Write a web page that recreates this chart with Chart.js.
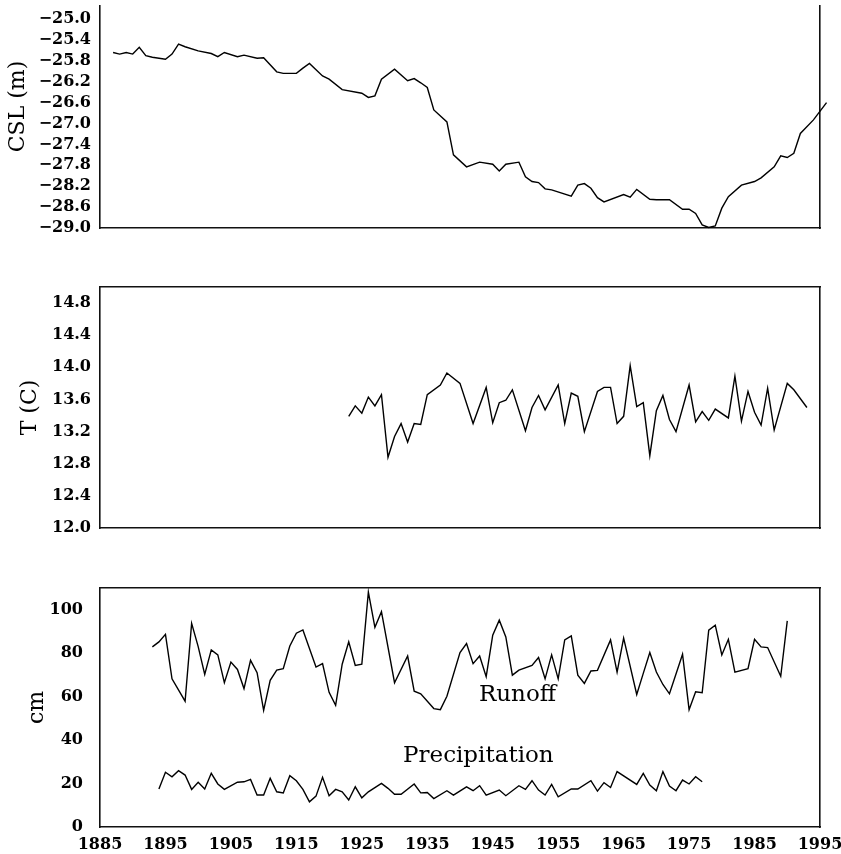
<!DOCTYPE html>
<html>
<head>
<meta charset="utf-8">
<script src="https://cdn.jsdelivr.net/npm/chart.js@4.4.0/dist/chart.umd.min.js"></script>
<style>
  html, body { margin: 0; padding: 0; background: #fff; }
  #wrap { position: relative; width: 841px; height: 854px; overflow: hidden; }
  .panel { position: absolute; left: 0; width: 841px; }
</style>
</head>
<body>
<div id="wrap">
  <div class="panel" style="top:0;height:240px"><canvas id="cslChart"></canvas></div>
  <div class="panel" style="top:280px;height:260px"><canvas id="tempChart"></canvas></div>
  <div class="panel" style="top:570px;height:284px"><canvas id="cmChart"></canvas></div>
</div>
<script>
// year axis shared by the three panels
const yearTicks = [1885, 1895, 1905, 1915, 1925, 1935, 1945, 1955, 1965, 1975, 1985, 1995];

// Caspian sea level (m)
const cslYears = [1887, 1888, 1889, 1890, 1891, 1892, 1893, 1895, 1896, 1897, 1898, 1900, 1902, 1903, 1904, 1906, 1907, 1909, 1910, 1912,
  1913, 1915, 1916, 1917, 1919, 1920, 1922, 1925, 1926, 1927, 1928, 1930, 1932, 1933, 1934, 1935, 1936, 1938, 1939, 1941,
  1943, 1945, 1946, 1947, 1949, 1950, 1951, 1952, 1953, 1954, 1957, 1958, 1959, 1960, 1961, 1962, 1965, 1966, 1967, 1969,
  1970, 1972, 1974, 1975, 1976, 1977, 1978, 1979, 1980, 1981, 1983, 1985, 1986, 1988, 1989, 1990, 1991, 1992, 1994, 1996];
const cslValues = [-25.64, -25.67, -25.64, -25.67, -25.54, -25.70, -25.73, -25.77, -25.67, -25.48, -25.53, -25.61, -25.66, -25.72, -25.64, -25.72, -25.69, -25.75, -25.74, -26.01,
  -26.04, -26.04, -25.94, -25.85, -26.09, -26.15, -26.35, -26.42, -26.50, -26.47, -26.15, -25.96, -26.18, -26.14, -26.22, -26.31, -26.74, -26.97, -27.60, -27.83,
  -27.74, -27.78, -27.91, -27.78, -27.74, -28.02, -28.11, -28.13, -28.25, -28.27, -28.39, -28.18, -28.15, -28.24, -28.42, -28.50, -28.36, -28.41, -28.26, -28.45,
  -28.46, -28.46, -28.64, -28.64, -28.72, -28.94, -28.99, -28.96, -28.62, -28.40, -28.18, -28.11, -28.04, -27.83, -27.62, -27.65, -27.57, -27.19, -26.93, -26.60];
const cslTicks = [-29.0, -28.6, -28.2, -27.8, -27.4, -27.0, -26.6, -26.2, -25.8, -25.4, -25.0];

// temperature (C)
const tYears = [1923, 1924, 1925, 1926, 1927, 1928, 1929, 1930, 1931, 1932, 1933, 1934, 1935, 1937, 1938, 1940, 1942, 1944, 1945, 1946,
  1947, 1948, 1950, 1951, 1952, 1953, 1955, 1956, 1957, 1958, 1959, 1961, 1962, 1963, 1964, 1965, 1966, 1967, 1968, 1969,
  1970, 1971, 1972, 1973, 1975, 1976, 1977, 1978, 1979, 1981, 1982, 1983, 1984, 1985, 1986, 1987, 1988, 1990, 1991, 1993];
const tValues = [13.39, 13.52, 13.43, 13.63, 13.52, 13.66, 12.88, 13.14, 13.30, 13.07, 13.30, 13.29, 13.66, 13.78, 13.93, 13.80, 13.30, 13.75, 13.31, 13.56,
  13.59, 13.72, 13.21, 13.50, 13.65, 13.47, 13.78, 13.30, 13.68, 13.64, 13.20, 13.70, 13.75, 13.75, 13.30, 13.39, 14.02, 13.51, 13.56, 12.90,
  13.46, 13.65, 13.35, 13.20, 13.78, 13.32, 13.45, 13.34, 13.48, 13.37, 13.89, 13.33, 13.70, 13.44, 13.28, 13.74, 13.22, 13.80, 13.72, 13.50];
const tTicks = [12.0, 12.4, 12.8, 13.2, 13.6, 14.0, 14.4, 14.8];

// runoff and precipitation (cm)
const runoffYears = [1893, 1894, 1895, 1896, 1898, 1899, 1900, 1901, 1902, 1903, 1904, 1905, 1906, 1907, 1908, 1909, 1910, 1911, 1912, 1913,
  1914, 1915, 1916, 1918, 1919, 1920, 1921, 1922, 1923, 1924, 1925, 1926, 1927, 1928, 1930, 1932, 1933, 1934, 1936, 1937,
  1938, 1940, 1941, 1942, 1943, 1944, 1945, 1946, 1947, 1948, 1949, 1951, 1952, 1953, 1954, 1955, 1956, 1957, 1958, 1959,
  1960, 1961, 1963, 1964, 1965, 1967, 1968, 1969, 1970, 1971, 1972, 1974, 1975, 1976, 1977, 1978, 1979, 1980, 1981, 1982,
  1984, 1985, 1986, 1987, 1989, 1990];
const runoffValues = [82.9, 85.2, 88.7, 68.2, 57.9, 93.7, 83.0, 70.2, 81.5, 79.2, 66.4, 75.9, 72.5, 63.7, 76.7, 71.0, 53.7, 67.5, 72.2, 72.9,
  83.3, 89.2, 90.7, 73.6, 75.2, 62.0, 56.0, 74.9, 85.2, 74.4, 74.9, 108.1, 91.9, 99.1, 66.4, 78.7, 62.5, 61.3, 54.5, 54.0,
  60.2, 80.3, 84.4, 75.2, 78.7, 69.2, 88.3, 95.2, 87.5, 69.9, 72.2, 74.4, 78.0, 68.2, 79.2, 68.2, 86.1, 88.0, 69.9, 66.1,
  71.8, 72.1, 86.1, 71.3, 86.9, 61.0, 70.7, 80.3, 71.3, 65.6, 61.3, 79.5, 54.0, 62.2, 61.8, 90.6, 92.9, 79.2, 86.4, 71.3,
  72.9, 86.4, 82.9, 82.6, 69.4, 94.9];
const precipYears = [1894, 1895, 1896, 1897, 1898, 1899, 1900, 1901, 1902, 1903, 1904, 1906, 1907, 1908, 1909, 1910, 1911, 1912, 1913, 1914,
  1915, 1916, 1917, 1918, 1919, 1920, 1921, 1922, 1923, 1924, 1925, 1926, 1928, 1929, 1930, 1931, 1933, 1934, 1935, 1936,
  1938, 1939, 1941, 1942, 1943, 1944, 1946, 1947, 1949, 1950, 1951, 1952, 1953, 1954, 1955, 1957, 1958, 1960, 1961, 1962,
  1963, 1964, 1967, 1968, 1969, 1970, 1971, 1972, 1973, 1974, 1975, 1976, 1977];
const precipValues = [17.5, 25.2, 23.1, 25.9, 23.9, 17.3, 20.6, 17.5, 24.7, 19.8, 17.3, 20.6, 20.8, 21.9, 14.7, 14.7, 22.4, 16.2, 15.7, 23.6,
  21.3, 17.3, 11.6, 14.2, 22.9, 14.4, 17.3, 16.2, 12.4, 18.5, 13.4, 16.2, 20.1, 17.8, 15.1, 15.1, 19.8, 15.7, 15.9, 13.1,
  16.7, 14.7, 18.5, 16.7, 19.0, 14.7, 17.0, 14.4, 19.0, 17.3, 21.3, 17.0, 14.7, 19.6, 13.9, 17.5, 17.5, 21.3, 16.5, 20.4,
  18.2, 25.5, 19.6, 24.7, 19.3, 16.7, 25.5, 18.8, 16.7, 21.6, 19.8, 23.1, 20.8];
const cmTicks = [0, 20, 40, 60, 80, 100];

const FONT = "'DejaVu Serif', 'Liberation Serif', serif";
Chart.defaults.font.family = FONT;
Chart.defaults.color = '#000';

const toPoints = (xs, ys) => xs.map((x, i) => ({ x: x, y: ys[i] }));
const minus = v => v.toFixed(1).replace('-', '\u2212');

const lineStyle = {
  borderColor: '#000',
  borderWidth: 1.4,
  pointRadius: 0,
  tension: 0,
  fill: false
};

// free text labels placed in data coordinates
const seriesLabels = {
  id: 'seriesLabels',
  afterDatasetsDraw(chart, args, opts) {
    if (!opts.items) return;
    const { ctx } = chart;
    const x = chart.scales.x, y = chart.scales.y;
    ctx.save();
    ctx.font = '23px ' + FONT;
    ctx.fillStyle = '#000';
    ctx.textAlign = 'left';
    ctx.textBaseline = 'alphabetic';
    opts.items.forEach(it => ctx.fillText(it.text, x.getPixelForValue(it.x), y.getPixelForValue(it.y)));
    ctx.restore();
  }
};

function makeOptions(cfg) {
  const frame = { display: true, color: '#111', width: 1.6 };
  return {
    responsive: true,
    maintainAspectRatio: false,
    animation: false,
    layout: { padding: cfg.padding },
    plugins: {
      legend: { display: false },
      tooltip: { enabled: false },
      seriesLabels: { items: cfg.labels || null }
    },
    scales: {
      x: {
        type: 'linear', position: 'bottom', min: 1885, max: 1995,
        grid: { display: false, drawTicks: false },
        border: frame,
        ticks: {
          display: cfg.showX, autoSkip: false, maxRotation: 0, padding: 8,
          font: { size: 16, weight: 'bold' },
          callback: v => String(v)
        },
        afterBuildTicks: s => { s.ticks = yearTicks.map(v => ({ value: v })); },
        afterFit: s => { s.height = cfg.showX ? 27 : 0; s.paddingLeft = 0; s.paddingRight = 0; }
      },
      xTop: {
        type: 'linear', position: 'top', min: 1885, max: 1995,
        display: cfg.topFrame,
        grid: { display: false, drawTicks: false },
        border: frame,
        ticks: { display: false },
        afterFit: s => { s.height = 0; s.paddingLeft = 0; s.paddingRight = 0; }
      },
      y: {
        type: 'linear', position: 'left', min: cfg.min, max: cfg.max,
        grid: { display: false, drawTicks: false },
        border: frame,
        title: {
          display: true, text: cfg.title,
          font: { size: 22, weight: 'normal' },
          padding: { top: cfg.titlePad, bottom: 0 }
        },
        ticks: {
          autoSkip: false, padding: cfg.tickPad,
          font: { size: 16, weight: 'bold' },
          callback: cfg.fmt
        },
        afterBuildTicks: s => { s.ticks = cfg.ticks.map(v => ({ value: v })); },
        afterFit: s => { s.width = 100; s.paddingTop = 0; s.paddingBottom = 0; }
      },
      yRight: {
        type: 'linear', position: 'right', min: cfg.min, max: cfg.max,
        grid: { display: false, drawTicks: false },
        border: frame,
        ticks: { display: false },
        afterFit: s => { s.width = 0; s.paddingTop = 0; s.paddingBottom = 0; }
      }
    }
  };
}

new Chart(document.getElementById('cslChart'), {
  type: 'line',
  data: { datasets: [Object.assign({ data: toPoints(cslYears, cslValues), clip: false }, lineStyle)] },
  options: makeOptions({
    min: -29.0, max: -24.75, ticks: cslTicks, fmt: v => minus(v),
    title: '   CSL (m)', titlePad: 5, tickPad: 9,
    showX: false, topFrame: false,
    padding: { top: 6, bottom: 12, left: 0, right: 21 }
  }),
  plugins: [seriesLabels]
});

new Chart(document.getElementById('tempChart'), {
  type: 'line',
  data: { datasets: [Object.assign({ data: toPoints(tYears, tValues) }, lineStyle)] },
  options: makeOptions({
    min: 12.0, max: 15.0, ticks: tTicks, fmt: v => v.toFixed(1),
    title: 'T (C)', titlePad: 17, tickPad: 9,
    showX: false, topFrame: true,
    padding: { top: 7, bottom: 12, left: 0, right: 21 }
  }),
  plugins: [seriesLabels]
});

new Chart(document.getElementById('cmChart'), {
  type: 'line',
  data: {
    datasets: [
      Object.assign({ label: 'Runoff', data: toPoints(runoffYears, runoffValues) }, lineStyle),
      Object.assign({ label: 'Precipitation', data: toPoints(precipYears, precipValues) }, lineStyle)
    ]
  },
  options: makeOptions({
    min: 0, max: 110, ticks: cmTicks, fmt: v => String(v),
    title: 'cm', titlePad: 24, tickPad: 17,
    showX: true, topFrame: true,
    padding: { top: 18, bottom: 0, left: 0, right: 21 },
    labels: [
      { text: 'Runoff', x: 1942.9, y: 57.9 },
      { text: 'Precipitation', x: 1931.3, y: 30.1 }
    ]
  }),
  plugins: [seriesLabels]
});
</script>
</body>
</html>
